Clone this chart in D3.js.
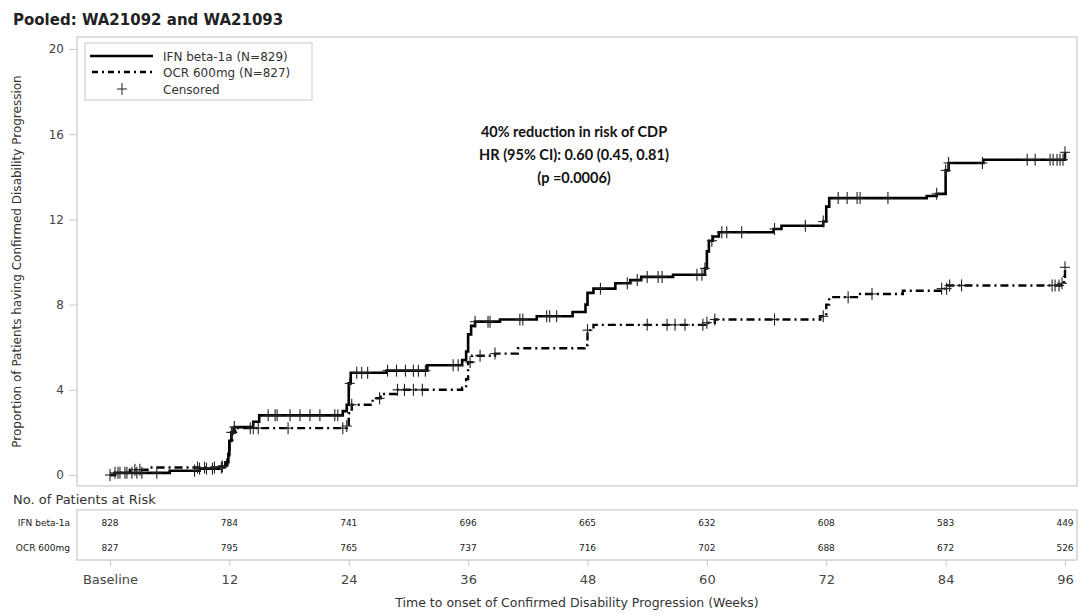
<!DOCTYPE html>
<html><head><meta charset="utf-8">
<script src="https://cdn.jsdelivr.net/npm/d3@7"></script>
<style>
html,body{margin:0;padding:0;background:#fff;}
svg{display:block;font-family:"DejaVu Sans",sans-serif;}
</style></head>
<body><svg id="c" width="1086" height="615"></svg>
<script>
// ---------- data ----------
const weekTicks = [0, 12, 24, 36, 48, 60, 72, 84, 96];
const weekTickLabels = ["Baseline", "12", "24", "36", "48", "60", "72", "84", "96"];
const yTicks = [0, 4, 8, 12, 16, 20];
const seriesNames = ["IFN beta-1a (N=829)", "OCR 600mg (N=827)"];
const riskRowLabels = ["IFN beta-1a", "OCR 600mg"];
const riskIFN = [828, 784, 741, 696, 665, 632, 608, 583, 449];
const riskOCR = [827, 795, 765, 737, 716, 702, 688, 672, 526];

// step curves: [week, cumulative % with CDP]
const ifnSteps = [[0,0.0],[0.5,0.1],[6,0.2],[9,0.3],[11,0.4],[11.6,0.6],[11.9,1.0],[12.0,1.6],[12.2,2.0],[12.5,2.25],[14.4,2.5],[15,2.8],[23.4,3.0],[23.8,3.3],[24.0,4.3],[24.2,4.8],[27.8,4.9],[31.9,5.15],[35.4,5.4],[35.8,5.8],[36.0,6.6],[36.3,7.0],[36.7,7.2],[39.2,7.3],[42.9,7.45],[46.5,7.65],[47.8,8.0],[48.0,8.55],[48.6,8.75],[50.8,9.0],[52.3,9.15],[53.4,9.3],[56.6,9.4],[59.8,9.7],[60.0,10.5],[60.2,11.0],[60.6,11.2],[61.2,11.4],[66.7,11.55],[67.5,11.7],[71.7,11.9],[72.0,12.6],[72.3,13.0],[82.1,13.1],[83.1,13.2],[84.0,14.3],[84.3,14.65],[87.8,14.8],[95.9,14.8],[96.0,15.15]];
const ocrSteps = [[0,0.0],[0.5,0.1],[2,0.25],[4,0.35],[11.5,0.45],[11.8,0.8],[12.0,1.5],[12.3,2.0],[12.6,2.2],[23.8,2.3],[24.0,2.9],[24.3,3.3],[26.4,3.6],[27.2,3.8],[28.8,4.0],[35.4,4.1],[35.8,4.5],[36.0,5.3],[36.4,5.6],[38.7,5.7],[41.0,5.95],[47.7,6.1],[48.0,6.8],[48.6,7.05],[60.0,7.15],[60.8,7.3],[71.4,7.45],[72.0,8.0],[72.3,8.35],[75.4,8.5],[79.7,8.65],[83.5,8.75],[84.2,8.9],[95.6,9.0],[95.9,9.3],[96.0,9.75]];

// censoring times (weeks)
const ifnCensor = [0,0.8,1.5,2.2,2.7,3.2,4.7,8.5,9.0,9.7,10.3,11.3,12.2,12.5,15.9,16.6,16.8,18.1,19.1,20.1,21.1,22.6,22.9,24.1,24.8,25.3,25.9,27.9,28.8,29.7,30.5,31.0,31.7,34.5,35.0,36.7,38.0,38.2,41.2,41.5,43.9,44.2,44.9,49.3,52.0,53.0,54.0,55.1,55.5,59.0,59.5,59.8,60.5,61.5,62.0,63.5,66.8,69.9,71.7,73.2,74.1,75.1,75.4,78.2,83.1,84.0,84.3,87.7,92.2,93.0,94.5,94.8,95.2,95.5,95.8,96.0];
const ocrCensor = [0.5,1.0,1.7,2.5,3.0,8.8,9.5,10.5,11.2,12.3,14.1,14.4,14.9,17.9,23.4,23.8,24.3,27.1,28.9,29.6,30.5,31.4,36.2,37.2,38.7,48.0,54.0,56.0,56.8,57.8,59.6,60.0,60.8,66.8,71.7,74.2,76.6,83.6,84.1,84.4,85.6,94.7,95.0,95.4,95.7,96.0];

const annotation = ["40% reduction in risk of CDP", "HR (95% CI): 0.60 (0.45, 0.81)", "(p =0.0006)"];

// ---------- drawing ----------
const svg = d3.select("#c");
const frame = {l: 77, r: 1077, t: 37, b: 486};
const x = d3.scaleLinear().domain([0, 96]).range([110, 1065]);
const y = d3.scaleLinear().domain([0, 20]).range([475, 49]);
const textCol = "#333";
const gridCol = "#c8c8c8";

svg.append("text").attr("x", 13).attr("y", 25)
  .attr("font-size", 15).attr("font-weight", 700).attr("fill", "#222")
  .text("Pooled: WA21092 and WA21093");

svg.append("rect").attr("x", frame.l).attr("y", frame.t)
  .attr("width", frame.r - frame.l).attr("height", frame.b - frame.t)
  .attr("fill", "none").attr("stroke", gridCol).attr("stroke-width", 1.2);

// y axis
const yAxis = d3.axisLeft(y).tickValues(yTicks).tickSize(8).tickPadding(5).tickFormat(d3.format("d"));
const gy = svg.append("g").attr("transform", `translate(${frame.l},0)`).call(yAxis);
gy.select(".domain").remove();
gy.selectAll(".tick line").attr("stroke", gridCol);
gy.selectAll(".tick text").attr("font-size", 12).attr("fill", "#444").attr("font-family", "'DejaVu Sans',sans-serif");

svg.append("text").attr("transform", `translate(21,${(frame.t + frame.b) / 2}) rotate(-90)`)
  .attr("text-anchor", "middle").attr("font-size", 12).attr("fill", textCol)
  .text("Proportion of Patients having Confirmed Disability Progression");

// curves
const line = d3.line().x(d => x(d[0])).y(d => y(d[1])).curve(d3.curveStepAfter);
svg.append("path").datum(ocrSteps).attr("d", line).attr("fill", "none")
  .attr("stroke", "#000").attr("stroke-width", 2.4).attr("stroke-dasharray", "8,4,2,4");
svg.append("path").datum(ifnSteps).attr("d", line).attr("fill", "none")
  .attr("stroke", "#000").attr("stroke-width", 2.6);

function valueAt(steps, t) {
  let v = steps[0][1];
  for (const s of steps) { if (s[0] <= t) v = s[1]; else break; }
  return v;
}
function plus(g, cx, cy) {
  g.append("line").attr("x1", cx - 5).attr("x2", cx + 5).attr("y1", cy).attr("y2", cy);
  g.append("line").attr("x1", cx).attr("x2", cx).attr("y1", cy - 6).attr("y2", cy + 6);
}
const cg = svg.append("g").attr("stroke", "#222").attr("stroke-width", 1.1);
ifnCensor.forEach(t => plus(cg, x(t), y(valueAt(ifnSteps, t))));
ocrCensor.forEach(t => plus(cg, x(t), y(valueAt(ocrSteps, t))));

// legend
const lg = svg.append("g");
lg.append("rect").attr("x", 85).attr("y", 43).attr("width", 227).attr("height", 57)
  .attr("fill", "#fff").attr("stroke", gridCol);
const legY = [56, 72, 89];
lg.append("line").attr("x1", 90).attr("x2", 153).attr("y1", legY[0]).attr("y2", legY[0])
  .attr("stroke", "#000").attr("stroke-width", 2.6);
lg.append("line").attr("x1", 92).attr("x2", 153).attr("y1", legY[1]).attr("y2", legY[1])
  .attr("stroke", "#000").attr("stroke-width", 2.4).attr("stroke-dasharray", "6,4,2,4");
const lp = lg.append("g").attr("stroke", "#333").attr("stroke-width", 1.1);
plus(lp, 122, legY[2]);
[seriesNames[0], seriesNames[1], "Censored"].forEach((s, i) => {
  lg.append("text").attr("x", 163).attr("y", legY[i] + 4.5).attr("font-size", 12)
    .attr("fill", textCol).text(s);
});

// annotation
const ag = svg.append("text").attr("text-anchor", "middle").attr("font-family", "Lato, sans-serif")
  .attr("font-weight", 700).attr("font-size", 14.5).attr("fill", "#111");
annotation.forEach((s, i) => ag.append("tspan").attr("x", 574).attr("y", 137 + i * 23).text(s));

// risk table
svg.append("text").attr("x", 13).attr("y", 504).attr("font-size", 13).attr("fill", textCol)
  .text("No. of Patients at Risk");
svg.append("rect").attr("x", frame.l).attr("y", 510).attr("width", frame.r - frame.l).attr("height", 50)
  .attr("fill", "none").attr("stroke", gridCol).attr("stroke-width", 1.2);
const rowY = [523, 548];
[riskIFN, riskOCR].forEach((row, r) => {
  svg.append("text").attr("x", 70).attr("y", rowY[r] + 3).attr("text-anchor", "end")
    .attr("font-size", 9).attr("fill", "#222").text(riskRowLabels[r]);
  svg.append("g").selectAll("text").data(row).join("text")
    .attr("x", (d, i) => x(weekTicks[i])).attr("y", rowY[r] + 3)
    .attr("text-anchor", "middle").attr("font-size", 9).attr("fill", "#222").text(d => d);
});

// x axis
const xAxis = d3.axisBottom(x).tickValues(weekTicks).tickSize(6).tickPadding(9)
  .tickFormat((d, i) => weekTickLabels[i]);
const gx = svg.append("g").attr("transform", "translate(0,560)").call(xAxis);
gx.select(".domain").remove();
gx.selectAll(".tick line").attr("stroke", gridCol);
gx.selectAll(".tick text").attr("font-size", 13).attr("fill", "#444").attr("font-family", "'DejaVu Sans',sans-serif");

svg.append("text").attr("x", (frame.l + frame.r) / 2).attr("y", 607).attr("text-anchor", "middle")
  .attr("font-size", 12.5).attr("fill", textCol)
  .text("Time to onset of Confirmed Disability Progression (Weeks)");
</script></body></html>
